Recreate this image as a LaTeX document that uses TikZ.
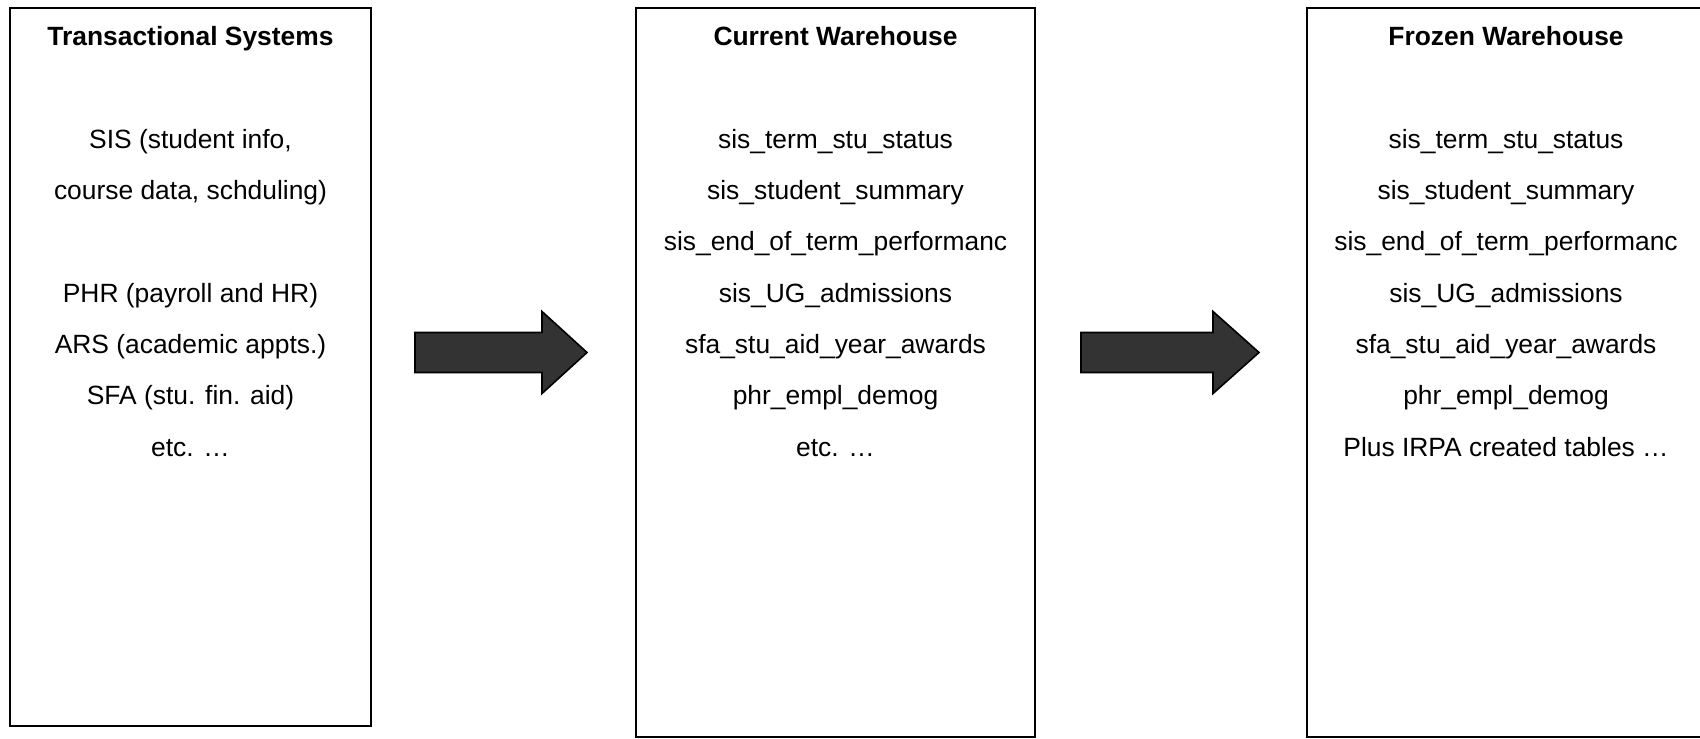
\documentclass[tikz,border=0pt]{standalone}
\usepackage{fontspec}
\setmainfont{Liberation Sans}
\begin{document}
\begin{tikzpicture}[x=0.5pt,y=-0.5pt,
  box/.style={draw=black, line width=1.2pt, inner sep=0pt, outer sep=0pt},
  txt/.style={font=\fontsize{13.2}{15}\selectfont, anchor=base, inner sep=0pt},
  ttl/.style={txt, font=\fontsize{13.2}{15}\selectfont\bfseries},
  bigarrow/.style={draw=black, line width=0.8pt, fill=black!80, line join=miter}]
\useasboundingbox (0,0) rectangle (1700,738);
\clip (0,0) rectangle (1700,738);
% boxes
\node[box, line width=1.35pt, minimum width=180.5pt, minimum height=359pt] (trans) at (190.5,367) {};
\node[box, minimum width=199.5pt, minimum height=364.5pt] (curr) at (835.5,372.5) {};
\node[box, minimum width=200.5pt, minimum height=364.5pt] (froz) at (1507.5,372.5) {};
% titles
\node[ttl] (transT) at (190.5,45.5) {Transactional Systems};
\node[ttl] (currT) at (835.5,45.5) {Current Warehouse};
\node[ttl] (frozT) at (1506,45.5) {Frozen Warehouse};
% left text
\node[txt] (t1) at (190.5,148.2) {SIS (student info,};
\node[txt] (t2) at (190.5,199.5) {course data, schduling)};
\node[txt] (t3) at (190.5,302.1) {PHR (payroll and HR)};
\node[txt] (t4) at (190.5,353.4) {ARS (academic appts.)};
\node[txt] (t5) at (190.5,404.7) {SFA (stu. fin. aid)};
\node[txt] (t6) at (190.5,456.0) {etc. …};
% middle text
\foreach \s [count=\i from 0] in {sis\_term\_stu\_status, sis\_student\_summary, sis\_end\_of\_term\_performanc, sis\_UG\_admissions, sfa\_stu\_aid\_year\_awards, phr\_empl\_demog, etc. …}
  \node[txt] (c\i) at (835.5,148.2+51.3*\i) {\s};
% right text
\foreach \s [count=\i from 0] in {sis\_term\_stu\_status, sis\_student\_summary, sis\_end\_of\_term\_performanc, sis\_UG\_admissions, sfa\_stu\_aid\_year\_awards, phr\_empl\_demog, Plus IRPA created tables …}
  \node[txt] (f\i) at (1506,148.2+51.3*\i) {\s};
% block arrows
\draw[bigarrow] (415,332.5) -- (542,332.5) -- (542,311.5) -- (587,352.5) -- (542,393.5) -- (542,372.5) -- (415,372.5) -- cycle;
\draw[bigarrow] (1081,332.5) -- (1213,332.5) -- (1213,311.5) -- (1259,352.5) -- (1213,393.5) -- (1213,372.5) -- (1081,372.5) -- cycle;
\end{tikzpicture}
\end{document}
